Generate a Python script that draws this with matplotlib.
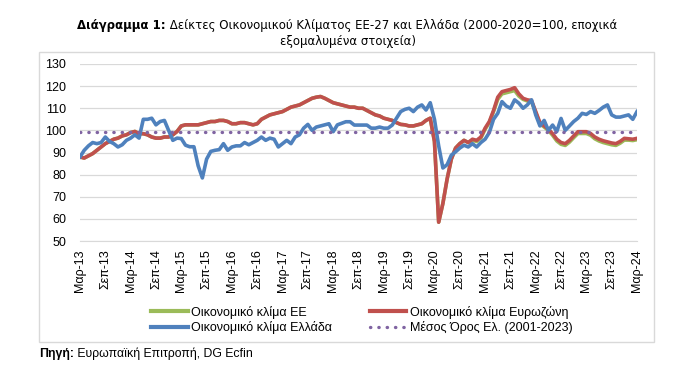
import matplotlib.pyplot as plt
from matplotlib.lines import Line2D
from matplotlib.patches import Rectangle

# Μηνιαίες τιμές από Μαρ-13 έως Μαρ-24 (ανά έτος, 2013 από Μάρτιο)
klima_ellada = [
    88, 91, 93, 94.5, 94, 94.5, 97, 95, 94, 92.5,
    93.5, 95.5, 96.5, 98, 96.5, 105, 105, 105.5, 102.5, 104, 104.5, 100,
    95.5, 96.5, 96.3, 93.3, 92.6, 92.6, 84, 78.5, 87, 90.5, 91, 91.3,
    94, 91, 92.5, 93, 93, 94.5, 93.5, 94.5, 95.5, 97, 95.5, 96.5,
    96, 92.5, 94, 95.5, 94, 97, 98, 101, 102.7, 100, 101.5, 102,
    102.5, 103, 99.4, 102.5, 103.2, 103.9, 103.9, 102.4, 102.4, 102.4, 102.4, 101,
    101, 101.5, 101, 101, 102.4, 105.5, 108.5, 109.5, 110, 108.5, 110.5, 111.5,
    109.2, 112.5, 105, 93, 83, 84.5, 88.8, 90.3, 92, 93.3, 92.5, 94,
    92.5, 94.5, 96, 99, 105, 107.7, 113, 111, 110, 113.8, 112.3, 110,
    111.5, 113.8, 107, 102, 104.5, 100, 102.4, 99.5, 105.4, 100, 102, 104,
    105.5, 107.7, 107.2, 108.5, 107.7, 109, 110.5, 111.5, 107, 106, 106, 106.5,
    107, 105, 108.5,
]

klima_eurozoni = [
    88, 87.5, 88.5, 89.5, 91, 92.5, 94, 95, 96, 96.5,
    97.5, 98, 99, 99.5, 98.5, 98.5, 98, 97, 96.5, 96.5, 97, 97,
    98, 99.5, 102, 102.5, 102.5, 102.5, 102.5, 103, 103.5, 104, 104, 104.5,
    104.5, 104, 103, 103, 103.5, 103.5, 103, 102.5, 103, 105, 106, 107,
    107.5, 108, 108.5, 109.5, 110.5, 111, 111.5, 112.5, 113.5, 114.5, 115, 115.3,
    114.5, 113.5, 112.5, 112, 111.5, 111, 110.5, 110.5, 110, 110, 109, 108,
    107, 106.5, 105.5, 105, 104.5, 103.5, 102.7, 102.5, 102, 102, 102.5, 103,
    104.5, 105.5, 95, 58.5, 67, 78, 87, 92, 94, 95.5, 94.5, 96,
    95.5, 97, 101, 104, 109, 115, 117.5, 118, 118.5, 119.3, 116.5, 114.5,
    113.8, 113.5, 108.5, 103.5, 102, 100.5, 98.5, 96, 94.5, 94, 95.5, 97.5,
    99.4, 99.4, 99.4, 98.6, 97, 96, 95.3, 94.8, 94.3, 94, 95, 96.4,
    96.2, 96, 96.4,
]

klima_ee = [
    88, 87.5, 88.5, 89.5, 91, 92.5, 94, 95, 96, 96.5,
    97.5, 98, 99, 99.5, 98.5, 98.5, 98, 97, 96.5, 96.5, 97, 97,
    98, 99.5, 102, 102.5, 102.5, 102.5, 102.5, 103, 103.5, 104, 104, 104.5,
    104.5, 104, 103, 103, 103.5, 103.5, 103, 102.5, 103, 105, 106, 107,
    107.5, 108, 108.5, 109.5, 110.5, 111, 111.5, 112.5, 113.5, 114.5, 115, 115.3,
    114.5, 113.5, 112.5, 112, 111.5, 111, 110.5, 110.5, 110, 110, 109, 108,
    107, 106.5, 105.5, 105, 104.5, 103.5, 102.7, 102.5, 102, 102, 102.5, 103,
    104.5, 105.5, 95, 58.5, 67, 78, 87, 92, 94, 95.5, 94.5, 95.5,
    95, 96.5, 100.5, 103.5, 108.5, 114, 116.5, 117, 117.5, 118, 115.5, 114,
    113.3, 113, 108, 103, 101.5, 100, 97.8, 95.2, 93.7, 93.2, 94.7, 96.7,
    98.6, 98.6, 98.6, 97.8, 96.2, 95.2, 94.5, 94, 93.5, 93.2, 94.2, 95.6,
    95.6, 95.4, 95.8,
]

mesos_oros = 99.2

tick_labels = [
    "Μαρ-13", "Σεπ-13", "Μαρ-14", "Σεπ-14", "Μαρ-15", "Σεπ-15", "Μαρ-16",
    "Σεπ-16", "Μαρ-17", "Σεπ-17", "Μαρ-18", "Σεπ-18", "Μαρ-19", "Σεπ-19",
    "Μαρ-20", "Σεπ-20", "Μαρ-21", "Σεπ-21", "Μαρ-22", "Σεπ-22", "Μαρ-23",
    "Σεπ-23", "Μαρ-24",
]

COL_EE = "#9BBB59"
COL_EZ = "#C0504D"
COL_GR = "#4F81BD"
COL_MO = "#8064A2"
FONT = "Liberation Sans"

W, H = 694, 377
fig = plt.figure(figsize=(W / 100, H / 100), dpi=100)
ax = fig.add_axes([80 / W, 1 - 241 / H, 557 / W, 177 / H])

months = list(range(len(klima_ellada)))
ax.plot(months, klima_ee, color=COL_EE, linewidth=2.6, solid_joinstyle="round")
ax.plot(months, klima_eurozoni, color=COL_EZ, linewidth=2.6, solid_joinstyle="round")
ax.plot(months, klima_ellada, color=COL_GR, linewidth=2.6, solid_joinstyle="round")
ax.plot(
    [months[0], months[-1]],
    [mesos_oros, mesos_oros],
    color=COL_MO,
    linewidth=2.4,
    linestyle=(0, (0.1, 2.4)),
    dash_capstyle="round",
)

ax.set_xlim(0, len(months) - 1)
ax.set_ylim(50, 130)
ax.set_yticks(range(50, 131, 10))
ax.set_xticks(months[::6])
ax.set_xticklabels(tick_labels, rotation=90, fontsize=9, family=FONT)
for lbl in ax.get_yticklabels():
    lbl.set_family(FONT)
    lbl.set_fontsize(9)
ax.tick_params(length=0, pad=10)
ax.tick_params(axis="x", pad=6)
ax.grid(axis="y", color="#D9D9D9", linewidth=0.9)
ax.set_axisbelow(True)
for s in ["top", "right", "left"]:
    ax.spines[s].set_visible(False)
ax.spines["bottom"].set_color("#D9D9D9")

handles = [
    Line2D([], [], color=COL_EE, linewidth=3),
    Line2D([], [], color=COL_GR, linewidth=3),
    Line2D([], [], color=COL_EZ, linewidth=3),
    Line2D([], [], color=COL_MO, linewidth=2.4, linestyle=(0, (0.1, 2.4)), dash_capstyle="round"),
]
labels = [
    "Οικονομικό κλίμα ΕΕ",
    "Οικονομικό κλίμα Ελλάδα",
    "Οικονομικό κλίμα Ευρωζώνη",
    "Μέσος Όρος Ελ. (2001-2023)",
]
fig.legend(
    handles,
    labels,
    ncol=2,
    loc="center",
    bbox_to_anchor=(362 / W, 1 - 320 / H),
    frameon=False,
    prop={"family": FONT, "size": 9},
    handlelength=2.9,
    handletextpad=0.3,
    columnspacing=3.0,
    labelspacing=0.22,
)

# πλαίσιο γύρω από το διάγραμμα
fig.patches.append(
    Rectangle(
        (39 / W, 1 - 342 / H),
        (654 - 39) / W,
        (342 - 52) / H,
        transform=fig.transFigure,
        fill=False,
        edgecolor="#D9D9D9",
        linewidth=1,
    )
)

# τίτλος: έντονο πρόθεμα + κανονικό κείμενο
r = fig.canvas.get_renderer()
t1 = fig.text(0, 1 - 26 / H, "Διάγραμμα 1:", weight="bold", fontsize=8.5, va="center")
t2 = fig.text(0, 1 - 26 / H, " Δείκτες Οικονομικού Κλίματος ΕΕ-27 και Ελλάδα (2000-2020=100, εποχικά",
              fontsize=8.5, va="center")
w1 = t1.get_window_extent(r).width
w2 = t2.get_window_extent(r).width
x0 = 347 - (w1 + w2) / 2
t1.set_x(x0 / W)
t2.set_x((x0 + w1) / W)
fig.text(348 / W, 1 - 42 / H, "εξομαλυμένα στοιχεία)", fontsize=8.5, ha="center", va="center")

# πηγή
s1 = fig.text(39 / W, 1 - 354 / H, "Πηγή:", weight="bold", fontsize=8.8, va="center", family=FONT)
ws = s1.get_window_extent(r).width
fig.text((39 + ws) / W, 1 - 354 / H, " Ευρωπαϊκή Επιτροπή, DG Ecfin", fontsize=8.8, va="center", family=FONT)

fig.savefig("out.png", dpi=100)
